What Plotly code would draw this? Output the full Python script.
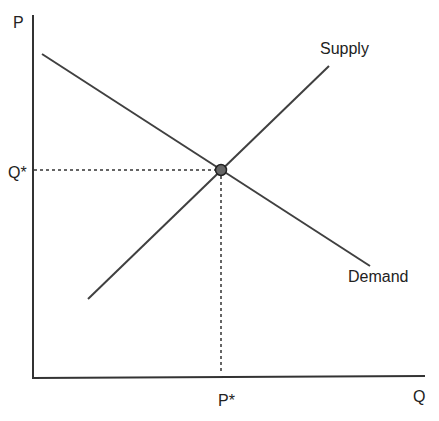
import plotly.graph_objects as go

# chart drawn in a pixel-like coordinate space (y grows downward via reversed axis)
supply_x = [88, 329]
supply_y = [299, 66]
demand_x = [42, 370]
demand_y = [54, 266]
eq_x, eq_y = 221, 170
axis_x = [33, 33, 425]
axis_y = [15, 378, 376]

line_col = "#404040"

fig = go.Figure()
fig.add_trace(go.Scatter(x=axis_x, y=axis_y, mode="lines",
                         line=dict(color="#333333", width=2)))
fig.add_trace(go.Scatter(x=supply_x, y=supply_y, mode="lines",
                         line=dict(color=line_col, width=2)))
fig.add_trace(go.Scatter(x=demand_x, y=demand_y, mode="lines",
                         line=dict(color=line_col, width=2)))
fig.add_trace(go.Scatter(x=[34, eq_x], y=[eq_y, eq_y], mode="lines",
                         line=dict(color="#333333", width=1.5, dash="dot")))
fig.add_trace(go.Scatter(x=[eq_x, eq_x], y=[eq_y, 372], mode="lines",
                         line=dict(color="#333333", width=1.5, dash="dot")))
fig.add_trace(go.Scatter(x=[eq_x], y=[eq_y], mode="markers",
                         marker=dict(size=11, color="#666666",
                                     line=dict(color="#222222", width=1.5))))

labels = [("P", 18, 22), ("Q*", 17, 172), ("P*", 226, 400), ("Q", 419, 396),
          ("Supply", 344, 48), ("Demand", 378, 276)]
for txt, x, y in labels:
    fig.add_annotation(x=x, y=y, text=txt, showarrow=False,
                       font=dict(family="Arial, Liberation Sans", size=16, color="#222222"))

# page body has an ~8px offset, so shift the ranges to land on the same pixels
fig.update_layout(
    width=439, height=421,
    margin=dict(l=0, r=0, t=0, b=0),
    paper_bgcolor="white", plot_bgcolor="white",
    showlegend=False,
    xaxis=dict(range=[8, 447], visible=False, fixedrange=True),
    yaxis=dict(range=[429, 8], visible=False, fixedrange=True),
)

fig.write_html("out.html")
